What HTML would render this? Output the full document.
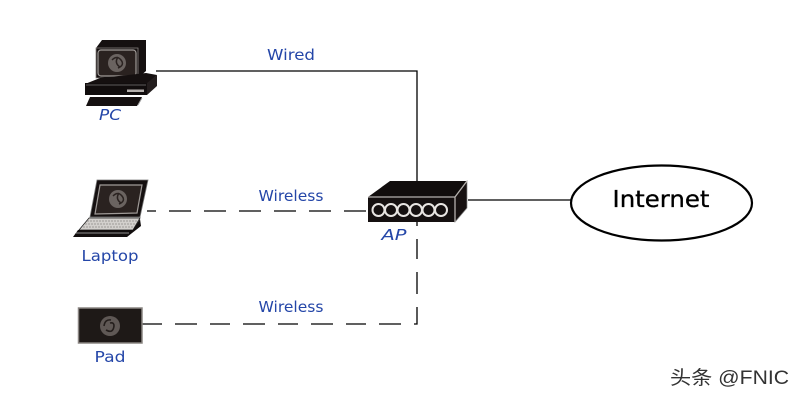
<!DOCTYPE html>
<html>
<head>
<meta charset="utf-8">
<style>
html,body{margin:0;padding:0;background:#fff;width:800px;height:400px;overflow:hidden}
svg{display:block}
.l{font-family:"DejaVu Sans","Liberation Sans",sans-serif;font-size:15.5px;fill:#2446a8}
.o{font-style:oblique}
</style>
</head>
<body>
<svg width="800" height="400" viewBox="0 0 800 400" xmlns="http://www.w3.org/2000/svg">
<rect width="800" height="400" fill="#fff"/>

<!-- connectors -->
<path d="M156 71H417V182" fill="none" stroke="#000" stroke-width="1.3"/>
<path d="M147 211H369" fill="none" stroke="#000" stroke-width="1.3" stroke-dasharray="9 13 22 13 22 13 22 13 22 13 22 13 22 13 22 13"/>
<path d="M142 324H417V222" fill="none" stroke="#000" stroke-width="1.3" stroke-dasharray="20 13 22 13"/>
<path d="M468 200H571" fill="none" stroke="#000" stroke-width="1.3"/>

<!-- PC -->
<polygon points="102,40 146,40 146,71 138,78 96,78 96,48" fill="#151010"/>
<polygon points="96,48 138,48 138,78 96,78" fill="#151010" stroke="#8a8582" stroke-width="0.8"/>
<rect x="98" y="50" width="38" height="26" rx="3" fill="#2a2220" stroke="#a09b98" stroke-width="1.2"/>
<circle cx="117" cy="63" r="9" fill="#6a6360"/>
<path d="M112 60q5-5 9 0t-3 8M118 57q-4 6 2 10" fill="none" stroke="#2a2220" stroke-width="1.5"/>
<polygon points="100,78 146,73 157,75 147,84 85,84" fill="#151010"/>
<rect x="85" y="83" width="62" height="12" fill="#110d0d"/>
<polygon points="147,83 157,75 157,86 147,95" fill="#241e1e"/>
<rect x="127" y="89.500" width="17" height="2.5" fill="#b5b0ad"/>
<path d="M86 85H146" stroke="#777" stroke-width="0.8"/>
<polygon points="90,97 142,97 137,106 86,106" fill="#151010"/>
<path d="M138 105l4-7" stroke="#999" stroke-width="0.8"/>

<!-- Laptop -->
<polygon points="97,180 148,180 140,217 90,217" fill="#151010" stroke="#777" stroke-width="0.8"/>
<polygon points="100,185 142,185 137,213 95,214" fill="#2a2220" stroke="#a09b98" stroke-width="1.2"/>
<circle cx="118" cy="199" r="9" fill="#6a6360"/>
<path d="M113 196q5-5 9 0t-3 8M119 193q-4 6 2 10" fill="none" stroke="#2a2220" stroke-width="1.5"/>
<polygon points="89,218 140,218 133,230 79,230" fill="#d3d0cd" stroke="#222" stroke-width="0.8"/>
<path d="M87 221H137M85 224H135M83 227H134" stroke="#8a8886" stroke-width="0.8" stroke-dasharray="2 1"/>
<polygon points="78,230 133,230 140,219 141,226 127,237 73,237" fill="#110d0d"/>
<path d="M76 233H129" stroke="#bbb" stroke-width="0.8"/>

<!-- Pad -->
<rect x="78.500" y="308" width="63.500" height="35" fill="#1e1917" stroke="#8a8582" stroke-width="1.500"/>
<circle cx="110" cy="326" r="10" fill="#5f5855"/>
<path d="M104 326q1-7 7-6M106 330q7 4 8-4q0-4-4-3" fill="none" stroke="#241e1c" stroke-width="1.6"/>

<!-- AP -->
<polygon points="390,181 467,181 455,197 368,197" fill="#110d0d"/>
<polygon points="467,181 467,208 455,222 455,197" fill="#171111" stroke="#888" stroke-width="0.7"/>
<rect x="368" y="197" width="87" height="25" fill="#151010"/>
<path d="M368 197H455L467 181M455 197V222" fill="none" stroke="#b5b1ae" stroke-width="1.3"/>
<g fill="none" stroke="#e8e5e2" stroke-width="2">
<circle cx="378.500" cy="210" r="6"/><circle cx="391" cy="210" r="6"/><circle cx="403.500" cy="210" r="6"/><circle cx="416" cy="210" r="6"/><circle cx="428.500" cy="210" r="6"/><circle cx="441" cy="210" r="6"/>
</g>

<!-- Internet -->
<ellipse cx="661.500" cy="203" rx="90.500" ry="37.500" fill="#fff" stroke="#000" stroke-width="2.200"/>
<text x="661" y="207" text-anchor="middle" font-family="DejaVu Sans,sans-serif" font-size="23" fill="#000" stroke="#000" stroke-width="0.3" textLength="97" lengthAdjust="spacingAndGlyphs">Internet</text>

<!-- labels -->
<text class="l" x="291" y="60" text-anchor="middle" textLength="48" lengthAdjust="spacingAndGlyphs">Wired</text>
<text class="l" x="291" y="201" text-anchor="middle" textLength="65" lengthAdjust="spacingAndGlyphs">Wireless</text>
<text class="l" x="291" y="312" text-anchor="middle" textLength="65" lengthAdjust="spacingAndGlyphs">Wireless</text>
<text class="l o" x="110" y="120" text-anchor="middle" textLength="22" lengthAdjust="spacingAndGlyphs">PC</text>
<text class="l" x="110" y="261" text-anchor="middle" textLength="57" lengthAdjust="spacingAndGlyphs">Laptop</text>
<text class="l" x="110" y="362" text-anchor="middle" textLength="31" lengthAdjust="spacingAndGlyphs">Pad</text>
<text class="l o" x="394" y="240" text-anchor="middle" textLength="25" lengthAdjust="spacingAndGlyphs">AP</text>

<!-- watermark -->
<text x="670" y="384" font-family="'Liberation Sans','Noto Sans CJK SC',sans-serif" font-size="19" fill="#333" textLength="119" lengthAdjust="spacingAndGlyphs">头条 @FNIC</text>
</svg>
</body>
</html>
